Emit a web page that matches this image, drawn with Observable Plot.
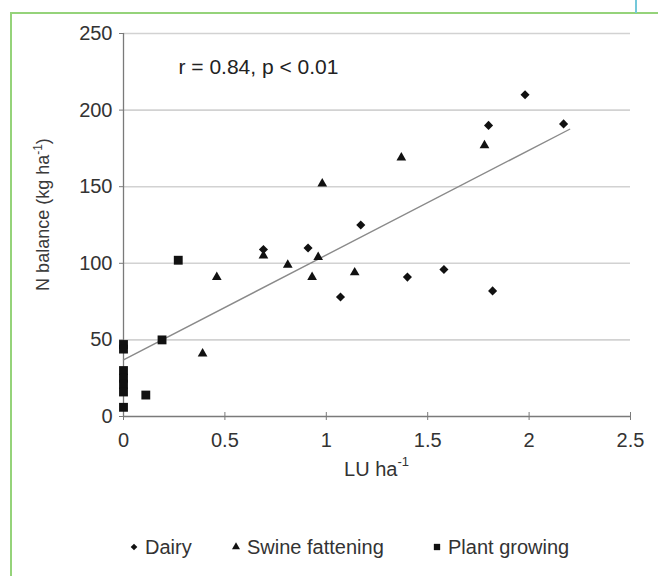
<!DOCTYPE html>
<html>
<head>
<meta charset="utf-8">
<script src="https://cdn.jsdelivr.net/npm/d3@7"></script>
<script src="https://cdn.jsdelivr.net/npm/@observablehq/plot@0.6"></script>
<style>
  body { margin: 0; background: #fff; }
  #wrap { position: relative; width: 658px; height: 576px; overflow: hidden; background: #fff; }
  #wrap svg { position: absolute; left: 0; top: 0; }
  .gline { position: absolute; background: #95d37a; }
  .cline { position: absolute; background: #74c8da; }
</style>
</head>
<body>
<div id="wrap">
  <div class="gline" style="left:10px; top:12px; width:648px; height:2px;"></div>
  <div class="gline" style="left:10px; top:12px; width:2px; height:564px;"></div>
  <div class="cline" style="left:635px; top:0px; width:2px; height:13px;"></div>
</div>
<script>
// ---- data ----
const groups = ["Dairy", "Swine fattening", "Plant growing"];

const dairyX = [0.69, 0.91, 1.17, 1.07, 1.40, 1.58, 1.82, 1.98, 1.80, 2.17];
const dairyY = [109, 110, 125, 78, 91, 96, 82, 210, 190, 191];

const swineX = [0.46, 0.39, 0.69, 0.81, 0.98, 1.37, 1.78, 0.96, 0.93, 1.14];
const swineY = [91, 41, 105, 99, 152, 169, 177, 104, 91, 94];

const plantX = [0.27, 0.19, 0, 0, 0, 0, 0, 0, 0.11, 0];
const plantY = [102, 50, 47, 44, 30, 25, 21, 16, 14, 6];

// fitted trend line end points as drawn in the reference
const trendX = [0, 2.2];
const trendY = [37, 187.5];

const xTicks = [0, 0.5, 1, 1.5, 2, 2.5];
const yTicks = [0, 50, 100, 150, 200, 250];
const statText = "r = 0.84, p < 0.01";

// ---- build tables ----
const toRows = (xs, ys) => xs.map((x, i) => ({x, y: ys[i]}));
const dairy = toRows(dairyX, dairyY);
const swine = toRows(swineX, swineY);
const plant = toRows(plantX, plantY);
const trend = toRows(trendX, trendY);

const FONT = "'Liberation Sans', Arial, Helvetica, sans-serif";
const TXT = "#333";

const plot = Plot.plot({
  width: 658,
  height: 576,
  marginLeft: 123,
  marginRight: 28,
  marginTop: 33,
  marginBottom: 160,
  style: {fontFamily: FONT, fontSize: "20px", color: TXT, background: "transparent", overflow: "visible"},
  x: {domain: [0, 2.5], label: null},
  y: {domain: [0, 250], label: null},
  marks: [
    Plot.gridY(yTicks.filter(d => d > 0), {stroke: "#d2d2d2", strokeOpacity: 1, strokeWidth: 1.6}),
    Plot.ruleY([0], {stroke: "#7a7a7a", strokeWidth: 1.3}),
    Plot.ruleX([0], {stroke: "#7a7a7a", strokeWidth: 1.3}),
    Plot.axisY({ticks: yTicks, tickSize: 4, tickPadding: 7, stroke: "#7a7a7a", fill: TXT, label: null, tickFormat: d => String(d)}),
    Plot.axisX({ticks: xTicks, tickSize: 4, tickPadding: 12, stroke: "#7a7a7a", fill: TXT, label: null, tickFormat: d => String(d)}),
    Plot.axisX({ticks: xTicks.filter(d => d > 0), anchor: "bottom", tickSize: 4, tickPadding: 0, dy: -4, stroke: "#7a7a7a", tickFormat: () => "", label: null}),
    Plot.line(trend, {x: "x", y: "y", stroke: "#8a8a8a", strokeWidth: 1.4}),
    Plot.dot(plant, {x: "x", y: "y", symbol: "square", r: 5, fill: "#111", stroke: "none"}),
    Plot.dot(swine, {x: "x", y: "y", symbol: "triangle", r: 3.6, fill: "#111", stroke: "none"}),
    Plot.dot(dairy, {x: "x", y: "y", symbol: "diamond2", r: 4.1, fill: "#111", stroke: "none"}),
    Plot.text([statText], {frameAnchor: "top-left", dx: 55, dy: 34, text: d => d, textAnchor: "start", lineAnchor: "middle", fontSize: 21, fill: "#222"})
  ]
});

document.getElementById("wrap").appendChild(plot);

// ---- axis titles and legend ----
const svg = d3.select(plot);
const [xr0, xr1] = plot.scale("x").range;
const [yr0, yr1] = plot.scale("y").range;

const xl = svg.append("text")
  .attr("x", (xr0 + xr1) / 2)
  .attr("y", 476)
  .attr("text-anchor", "middle")
  .attr("font-family", FONT)
  .attr("font-size", 20)
  .attr("fill", TXT);
xl.append("tspan").text("LU ha");
xl.append("tspan").attr("font-size", 13).attr("dy", -10).text("-1");

const yl = svg.append("text")
  .attr("transform", `translate(49,${(yr0 + yr1) / 2 - 10}) rotate(-90)`)
  .attr("text-anchor", "middle")
  .attr("font-family", FONT)
  .attr("font-size", 18)
  .attr("fill", "#3a3a3a");
yl.append("tspan").text("N balance (kg ha");
yl.append("tspan").attr("font-size", 12).attr("dy", -7).text("-1");
yl.append("tspan").attr("dy", 7).text(")");

const legendSymbols = [d3.symbolDiamond2, d3.symbolTriangle, d3.symbolSquare];
const legendSizes = [28, 28, 40];
const legendPos = [134, 236, 437];
const legendY = 547;
const lg = svg.append("g").attr("font-family", FONT).attr("font-size", 20).attr("fill", TXT);
groups.forEach((g, i) => {
  lg.append("path")
    .attr("d", d3.symbol(legendSymbols[i], legendSizes[i])())
    .attr("transform", `translate(${legendPos[i]},${legendY})`)
    .attr("fill", "#111");
  lg.append("text")
    .attr("x", legendPos[i] + 11)
    .attr("y", legendY)
    .attr("dy", "0.35em")
    .attr("text-anchor", "start")
    .text(g);
});
</script>
</body>
</html>
